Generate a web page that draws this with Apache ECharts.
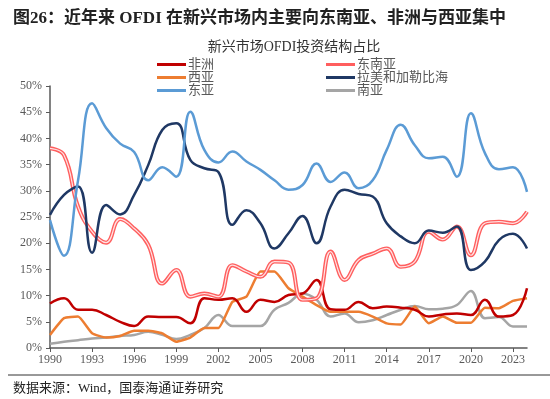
<!DOCTYPE html>
<html>
<head>
<meta charset="utf-8">
<script src="https://cdn.jsdelivr.net/npm/echarts@6/dist/echarts.min.js"></script>
<style>
  html, body { margin: 0; padding: 0; background: #fff; }
</style>
</head>
<body>
<div id="main" style="width:550px;height:399px"></div>
<script>
var years = []
for (var y = 1990; y <= 2024; y++) years.push(String(y))

// 各地区占比（%）
var africa = [8.5, 9.5, 7.3, 7.3, 6.3, 5.0, 4.2, 6.0, 5.9, 5.9, 4.7, 9.5, 9.2, 9.5, 6.9, 9.2, 8.8, 10.1, 10.4, 13.0, 7.4, 7.3, 8.8, 7.6, 7.9, 7.7, 7.3, 6.0, 6.4, 6.6, 6.3, 9.2, 6.0, 6.3, 11.4]
var seAsia = [38.1, 36.8, 27.0, 22.2, 20.1, 24.6, 22.8, 19.7, 12.3, 14.9, 9.8, 10.4, 9.8, 15.8, 14.6, 13.6, 16.5, 16.3, 9.2, 9.5, 18.4, 13.0, 16.8, 18.0, 19.0, 15.5, 16.5, 22.2, 20.7, 23.2, 17.7, 23.8, 24.1, 23.8, 26.0]
var westAsia = [2.5, 5.7, 6.0, 2.8, 2.0, 2.3, 3.3, 3.3, 2.8, 1.2, 2.0, 3.8, 3.8, 8.8, 9.8, 14.6, 14.6, 11.4, 9.8, 8.2, 6.9, 6.9, 6.9, 6.0, 4.7, 4.5, 7.9, 4.7, 6.0, 4.8, 4.8, 7.7, 7.6, 9.0, 9.5]
var latam = [25.4, 29.2, 30.8, 18.2, 27.3, 25.5, 29.2, 34.9, 41.6, 42.9, 35.9, 34.3, 33.6, 23.5, 26.3, 23.8, 19.0, 21.9, 25.2, 20.0, 27.0, 30.2, 29.4, 28.9, 23.8, 21.3, 20.0, 22.4, 22.0, 23.2, 14.9, 16.5, 20.6, 21.8, 19.0]
var eastAsia = [24.4, 17.6, 32.0, 46.7, 42.0, 39.0, 37.4, 32.0, 34.5, 32.7, 45.1, 37.8, 35.4, 37.5, 35.6, 34.0, 32.0, 30.2, 31.1, 35.2, 31.7, 33.5, 30.5, 32.0, 37.8, 42.6, 38.7, 36.2, 36.5, 32.7, 44.8, 37.2, 34.1, 34.5, 29.8]
var southAsia = [0.8, 1.2, 1.5, 1.8, 2.0, 2.3, 2.5, 3.1, 2.5, 1.7, 2.5, 3.8, 6.3, 4.2, 4.2, 4.2, 7.3, 8.6, 10.4, 9.2, 6.0, 6.6, 4.9, 5.3, 6.3, 7.3, 8.0, 7.4, 7.5, 8.2, 10.9, 5.7, 5.9, 4.1, 4.1]

var serif = '"Liberation Serif", "Noto Sans CJK SC", serif'
var chart = echarts.init(document.getElementById('main'))

function line (name, data, color, width, smooth) {
  return {
    name: name,
    type: 'line',
    data: data,
    smooth: smooth,
    symbol: 'none',
    lineStyle: { color: color, width: width },
    itemStyle: { color: color }
  }
}

var legendBase = {
  orient: 'vertical',
  top: 53,
  itemGap: 0,
  itemWidth: 29,
  itemHeight: 3,
  icon: 'rect',
  textStyle: { fontFamily: serif, fontSize: 13, color: '#595959', padding: [0, 0, 0, -3] }
}

var option = {
  backgroundColor: '#fff',
  animation: false,
  title: [
    {
      text: '图26：近年来 OFDI 在新兴市场内主要向东南亚、非洲与西亚集中',
      left: 8,
      top: 5,
      textStyle: { fontFamily: serif, fontSize: 17, fontWeight: 'bold', color: '#222' }
    },
    {
      text: '新兴市场OFDI投资结构占比',
      left: 289,
      textAlign: 'center',
      top: 35,
      textStyle: { fontFamily: serif, fontSize: 14, fontWeight: 'normal', color: '#333' }
    },
    {
      text: '数据来源：Wind，国泰海通证券研究',
      left: 8,
      top: 377,
      textStyle: { fontFamily: serif, fontSize: 13, fontWeight: 'normal', color: '#222' }
    }
  ],
  legend: [
    Object.assign({}, legendBase, { data: ['非洲', '西亚', '东亚'], left: 152 }),
    Object.assign({}, legendBase, { data: ['东南亚', '拉美和加勒比海', '南亚'], left: 321 })
  ],
  grid: { left: 50, right: 23, top: 86, bottom: 51 },
  xAxis: {
    type: 'category',
    data: years,
    boundaryGap: false,
    axisLine: { lineStyle: { color: '#595959', width: 1.5 } },
    axisTick: { interval: 2, length: 4, lineStyle: { color: '#595959' } },
    axisLabel: { interval: 2, fontFamily: serif, fontSize: 12, color: '#595959', margin: 6 },
    splitLine: { show: false }
  },
  yAxis: {
    type: 'value',
    min: 0,
    max: 50,
    interval: 5,
    axisLine: { show: true, lineStyle: { color: '#595959', width: 1.5 } },
    axisTick: { show: true, inside: false, length: 4, lineStyle: { color: '#595959' } },
    axisLabel: { formatter: '{value}%', fontFamily: serif, fontSize: 12, color: '#595959', margin: 8 },
    splitLine: { show: false }
  },
  series: [
    line('南亚', southAsia, '#A5A5A5', 2.5, 0.4),
    line('西亚', westAsia, '#ED7D31', 2.5, 0.15),
    line('非洲', africa, '#C00000', 2.5, 0.45),
    line('东南亚', seAsia, '#FF5E5E', 4, 0.45),
    // 东南亚双线的浅色中心
    {
      name: '东南亚-inner',
      type: 'line',
      data: seAsia,
      smooth: 0.45,
      symbol: 'none',
      silent: true,
      lineStyle: { color: '#FFE2E2', width: 1.2 }
    },
    line('拉美和加勒比海', latam, '#1F3864', 2.5, 0.45),
    line('东亚', eastAsia, '#5B9BD5', 2.5, 0.45)
  ],
  graphic: [
    {
      type: 'line',
      shape: { x1: 8, y1: 375, x2: 550, y2: 375 },
      style: { stroke: '#333', lineWidth: 1 }
    }
  ]
}
chart.setOption(option)
</script>
</body>
</html>
